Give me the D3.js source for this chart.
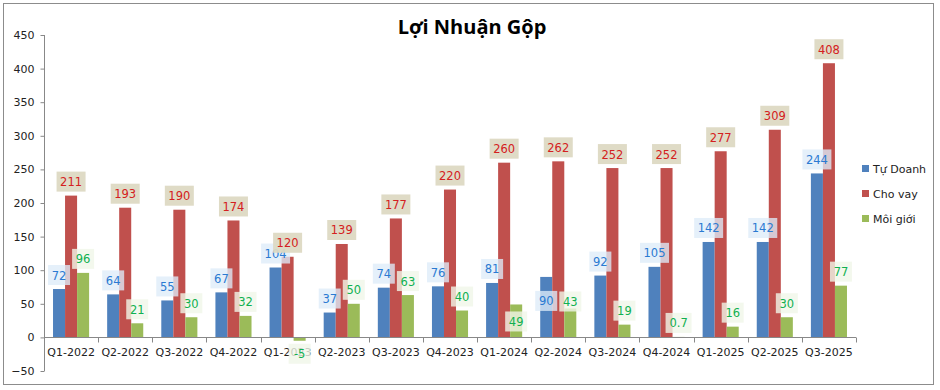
<!DOCTYPE html>
<html>
<head>
<meta charset="utf-8">
<script src="https://cdn.jsdelivr.net/npm/d3@7"></script>
<style>
  html, body { margin: 0; padding: 0; background: #fff; }
  svg { display: block; }
</style>
</head>
<body>
<svg id="chart" width="940" height="390"></svg>
<script>
const categories = ["Q1-2022","Q2-2022","Q3-2022","Q4-2022","Q1-2023","Q2-2023","Q3-2023","Q4-2023","Q1-2024","Q2-2024","Q3-2024","Q4-2024","Q1-2025","Q2-2025","Q3-2025"];
const seriesNames = ["Tự Doanh","Cho vay","Môi giới"];
const tuDoanh = [72,64,55,67,104,37,74,76,81,90,92,105,142,142,244];
const choVay = [211,193,190,174,120,139,177,220,260,262,252,252,277,309,408];
const moiGioi = [96,21,30,32,-5,50,63,40,49,43,19,0.7,16,30,77];
const yTicks = [-50,0,50,100,150,200,250,300,350,400,450];
const title = "Lợi Nhuận Gộp";

const seriesValues = [tuDoanh, choVay, moiGioi];
const colors = ["#4f81bd","#c0504d","#9bbb59"];
const labelText = ["#2a7ad2","#d42020","#10b050"];
const labelBox = ["rgba(222,236,248,0.78)","rgba(221,217,195,0.95)","rgba(240,246,232,0.8)"];
// manual label nudges (px, downward) as in the reference
const labelShift = {"0|Q2-2024": 38, "2|Q1-2024": 31, "2|Q2-2024": 7};

const svg = d3.select("#chart");
const W = 940, H = 390;
const plot = {left: 44, right: 856, top: 35, bottom: 371};

svg.append("rect").attr("x", 3.5).attr("y", 3.5).attr("width", 930).attr("height", 381)
  .attr("fill", "#fff").attr("stroke", "#8c8c8c").attr("stroke-width", 1);

svg.append("text").attr("x", 472).attr("y", 34).attr("text-anchor", "middle")
  .attr("font-family", "'Open Sans', sans-serif").attr("font-weight", "bold")
  .attr("font-size", 20).attr("fill", "#000").text(title);

const y = d3.scaleLinear().domain([-50, 450]).range([plot.bottom, plot.top]);
const x0 = d3.scaleBand().domain(categories).range([plot.left, plot.right]).paddingInner(0).paddingOuter(0);
const bw = x0.bandwidth() / 4.5;
const x1 = d3.scaleBand().domain([0,1,2]).range([0.75*bw, 3.75*bw]).padding(0);

// y axis
const yAxis = d3.axisLeft(y).tickValues(yTicks).tickSize(4).tickPadding(6);
const gy = svg.append("g").attr("transform", `translate(${plot.left + 0.5},0)`).call(yAxis);
gy.select(".domain").attr("stroke", "#888").attr("d", `M-0,${plot.top}V${plot.bottom}`);
gy.selectAll(".tick line").attr("stroke", "#888");
gy.selectAll(".tick text").attr("font-family", "'DejaVu Sans', sans-serif").attr("font-size", 11).attr("fill", "#222");

// bars
seriesValues.forEach((vals, s) => {
  svg.append("g").selectAll("rect").data(vals).join("rect")
    .attr("x", (d, i) => x0(categories[i]) + x1(s))
    .attr("width", x1.bandwidth())
    .attr("y", d => d >= 0 ? y(d) : y(0))
    .attr("height", d => Math.abs(y(d) - y(0)))
    .attr("fill", colors[s]);
});

// x axis
const xAxis = d3.axisBottom(x0).tickSize(0).tickPadding(11);
const gx = svg.append("g").attr("transform", `translate(0,${Math.round(y(0)) + 0.5})`).call(xAxis);
gx.select(".domain").attr("stroke", "#888").attr("d", `M${plot.left},0H${plot.right}`);
gx.selectAll(".tick text").attr("font-family", "'DejaVu Sans', sans-serif").attr("font-size", 11).attr("fill", "#222");
const boundaries = categories.map(c => x0(c)).concat([plot.right]);
gx.selectAll("line.sep").data(boundaries).join("line").attr("class", "sep")
  .attr("x1", d => Math.round(d) + 0.5).attr("x2", d => Math.round(d) + 0.5)
  .attr("y1", 0).attr("y2", 5).attr("stroke", "#888");

// labels
const fmt = v => String(v);
seriesValues.forEach((vals, s) => {
  const g = svg.append("g");
  vals.forEach((v, i) => {
    const cx = x0(categories[i]) + x1(s) + x1.bandwidth() / 2;
    const shift = labelShift[s + "|" + categories[i]] || 0;
    const txt = fmt(v);
    const tw = txt.length * 7 + (txt.includes(".") ? -3 : 0);
    const bwid = tw + 8, bh = 20;
    let top = v >= 0 ? y(v) - 4 - bh : y(v) + 3;
    top += shift;
    g.append("rect").attr("x", cx - bwid / 2).attr("y", top).attr("width", bwid).attr("height", bh)
      .attr("fill", labelBox[s]);
    g.append("text").attr("x", cx).attr("y", top + 14.5).attr("text-anchor", "middle")
      .attr("font-family", "'DejaVu Sans', sans-serif").attr("font-size", 11.5)
      .attr("fill", labelText[s]).text(txt);
  });
});

// legend
const lg = svg.append("g");
seriesNames.forEach((n, s) => {
  const ly = 169 + s * 25;
  lg.append("rect").attr("x", 862).attr("y", ly - 4).attr("width", 7).attr("height", 7).attr("fill", colors[s]);
  lg.append("text").attr("x", 873).attr("y", ly + 4).attr("font-family", "'DejaVu Sans', sans-serif")
    .attr("font-size", 11).attr("fill", "#222").text(n);
});
</script>
</body>
</html>
